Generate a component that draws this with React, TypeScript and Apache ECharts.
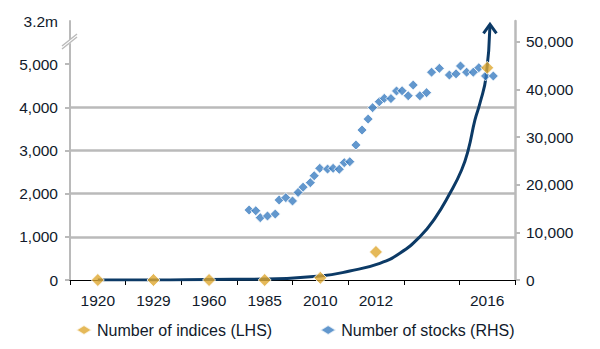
import React, { useEffect, useRef } from "react";
import * as echarts from "echarts";

// Category (x) axis labels
const categories = ["1920", "1929", "1960", "1985", "2010", "2012", "", "2016"];

// Number of indices (LHS), one per category (null = no point)
const indices: (number | null)[] = [0, 0, 0, 0, 50, 650, null, 4915];

// Number of stocks (RHS): [position along the category axis, value]
const stockPos = [
  3.22, 3.34, 3.42, 3.55, 3.69, 3.76, 3.88, 4.0, 4.1, 4.19, 4.32, 4.39, 4.49, 4.63, 4.73, 4.84,
  4.93, 5.03, 5.14, 5.25, 5.36, 5.44, 5.56, 5.65, 5.77, 5.87, 5.97, 6.08, 6.17, 6.29, 6.41,
  6.5, 6.64, 6.82, 6.94, 7.02, 7.13, 7.25, 7.35, 7.47, 7.61,
];
const stockVals = [
  14700, 14550, 13100, 13450, 13850, 16800, 17300, 16600, 18400, 19500, 20450, 21900, 23450,
  23300, 23450, 23250, 24650, 24850, 28350, 31500, 33800, 36200, 37450, 38150, 38100, 39700,
  39750, 38700, 40950, 38700, 39350, 43650, 44450, 43050, 43300, 44950, 43650, 43650, 44600,
  42850, 42850,
];

// Growth curve (LHS scale, broken at top): [position, value]
const curvePos = [0.5, 1.5, 2.5, 3.5, 4.5, 5.03, 5.57, 5.93, 6.29, 6.56, 6.83, 7.04, 7.16, 7.28, 7.37, 7.48, 7.55];
const curveVals = [0, 0, 12, 23, 93, 209, 387, 619, 1003, 1430, 2009, 2549, 3013, 3708, 4095, 4705, 5900];

// Axis ticks
const leftTicks = [0, 1000, 2000, 3000, 4000, 5000];
const leftTopLabel = "3.2m";
const rightTicks = [0, 10000, 20000, 30000, 40000, 50000];

const NAVY = "#0c3a66";
const GOLD = "#dea72f";
const BLUE = "#3b7dc0";
const GRAY = "#bababa";
const TEXT = "#111a2b";
const FONT = "'Liberation Sans', Arial, Helvetica, sans-serif";

export default function App() {
  const ref = useRef<HTMLDivElement>(null);
  useEffect(() => {
    if (!ref.current) return;
    const chart = echarts.init(ref.current, undefined, { renderer: "svg" });
    const fmt = (v: number) => v.toLocaleString("en-US");
    const curveData = curvePos.map((x, i) => [x, curveVals[i]]);
    const arrowData = [curveData[curveData.length - 1]];
    chart.setOption({
      animation: false,
      textStyle: { fontFamily: FONT },
      grid: { left: 70, right: 85, top: 21, bottom: 69 },
      legend: {
        data: [
          { name: "Number of indices (LHS)", icon: "diamond" },
          { name: "Number of stocks (RHS)", icon: "diamond" },
        ],
        left: 70,
        top: 317,
        itemWidth: 16,
        itemHeight: 10,
        itemGap: 47,
        textStyle: { fontSize: 16, color: TEXT, fontFamily: FONT },
      },
      xAxis: [
        {
          type: "category",
          data: categories,
          boundaryGap: true,
          axisLine: { lineStyle: { color: "#000", width: 1 } },
          axisTick: { show: true, alignWithLabel: false, length: 5, lineStyle: { color: "#000" } },
          axisLabel: { color: TEXT, fontSize: 15.5, margin: 12, interval: 0 },
          splitLine: { show: false },
          z: 1,
        },
        { type: "value", min: 0, max: categories.length, show: false },
      ],
      yAxis: [
        {
          type: "value",
          min: 0,
          max: 6000,
          interval: 1000,
          position: "left",
          axisLine: { show: true, lineStyle: { color: GRAY, width: 2 } },
          axisTick: { show: true, length: 5, lineStyle: { color: GRAY, width: 2 }, customValues: leftTicks },
          axisLabel: {
            color: TEXT,
            fontSize: 15.5,
            margin: 12,
            formatter: (v: number) => (v === 6000 ? leftTopLabel : fmt(v)),
          },
          splitLine: { show: true, showMinLine: false, showMaxLine: false, lineStyle: { color: GRAY, width: 2.5 } },
        },
        {
          type: "value",
          min: 0,
          max: 54400,
          interval: 10000,
          position: "right",
          axisLine: { show: true, lineStyle: { color: GRAY, width: 2.5 } },
          axisTick: { show: true, length: 5, lineStyle: { color: GRAY, width: 2 }, customValues: rightTicks },
          axisLabel: { color: TEXT, fontSize: 15.5, margin: 11, showMaxLabel: false, formatter: (v: number) => fmt(v) },
          splitLine: { show: false },
        },
      ],
      series: [
        {
          name: "curve",
          type: "line",
          xAxisIndex: 1,
          yAxisIndex: 0,
          data: curveData,
          smooth: 0.5,
          symbol: "none",
          lineStyle: { color: NAVY, width: 3 },
          z: 2,
        },
        {
          name: "arrow",
          type: "custom",
          xAxisIndex: 1,
          yAxisIndex: 0,
          data: arrowData,
          renderItem: (params: any, api: any) => {
            const p = api.coord([api.value(0), api.value(1)]);
            return {
              type: "polyline",
              shape: { points: [[p[0] - 6.5, p[1] + 8], [p[0], p[1] - 1], [p[0] + 6.5, p[1] + 8]] },
              style: { stroke: NAVY, lineWidth: 3, fill: null },
            };
          },
          z: 2,
        },
        {
          name: "Number of stocks (RHS)",
          type: "scatter",
          xAxisIndex: 1,
          yAxisIndex: 1,
          data: stockPos.map((x, i) => [x, stockVals[i]]),
          symbol: "diamond",
          symbolSize: 10,
          itemStyle: { color: BLUE, borderColor: "#fff", borderWidth: 1 },
          z: 3,
        },
        {
          name: "Number of indices (LHS)",
          type: "scatter",
          xAxisIndex: 0,
          yAxisIndex: 0,
          data: indices,
          symbol: "diamond",
          symbolSize: 13,
          itemStyle: { color: GOLD, borderColor: "#fff", borderWidth: 1 },
          z: 4,
        },
      ],
      graphic: [
        {
          type: "polygon",
          shape: { points: [[62, 46], [77, 34], [77, 38], [62, 50]] },
          style: { fill: "#fff" },
          z: 10,
        },
        { type: "line", shape: { x1: 62, y1: 46, x2: 77, y2: 34 }, style: { stroke: GRAY, lineWidth: 1.5 }, z: 11 },
        { type: "line", shape: { x1: 62, y1: 49, x2: 77, y2: 37 }, style: { stroke: GRAY, lineWidth: 1.5 }, z: 11 },
      ],
    });
    return () => chart.dispose();
  }, []);
  return <div ref={ref} style={{ width: 600, height: 349, position: "absolute", left: 0, top: 0 }} />;
}
